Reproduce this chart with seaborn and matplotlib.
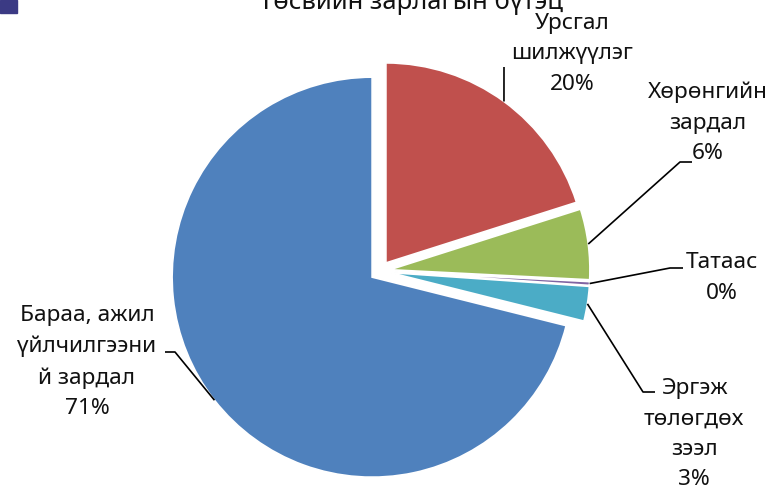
"""Pie chart of budget expenditure structure (Төсвийн зарлагын бүтэц)."""

import numpy as np
import matplotlib
matplotlib.use("Agg")
import matplotlib.pyplot as plt
import seaborn as sns
from matplotlib.patches import Rectangle

# data, in drawing order (clockwise from 12 o'clock)
categories=["Урсгал\nшилжүүлэг","Хөрөнгийн\nзардал","Татаас","Эргэж\nтөлөгдөх\nзээл","Бараа, ажил\nүйлчилгээни\nй зардал"]
shares=[20.1,5.7,0.3,2.8,71.1]
pct_labels=["20%","6%","0%","3%","71%"]
colors=["#C0504D","#9BBB59","#8064A2","#4BACC6","#4F81BD"]
title="Төсвийн зарлагын бүтэц"

# layout in pixels of the 776x492 canvas: label centre, leader elbow, leader end
label_pos=[(572,54),(708,123),(722,278),(694,434),(87,362)]
elbows=[(504,67),(680,162),(670,268),(643,392),(175,352)]
ends=[(504,67),(692,162),(683,268),(655,392),(165,352)]

W,H=776,492
CX,CY,R=380,271,200      # pie centre and radius in pixels

def px(p):                # pixel position -> data units
    return ((p[0]-CX)/R,(CY-p[1])/R)

sns.set_style("white")
plt.rcParams["font.family"]=["Noto Sans","DejaVu Sans"]

fig=plt.figure(figsize=(W/100,H/100),dpi=100)
ax=fig.add_axes([0,0,1,1])
wedges,_=ax.pie(shares,colors=sns.color_palette(colors),startangle=90,counterclock=False,
                explode=[0.05]*len(shares),radius=1,
                wedgeprops=dict(edgecolor="white",linewidth=1.2))
ax.set_xlim(-CX/R,(W-CX)/R)
ax.set_ylim((CY-H)/R,CY/R)
ax.set_aspect("equal")
ax.axis("off")

for w,cat,pct,lp,el,en in zip(wedges,categories,pct_labels,label_pos,elbows,ends):
    mid=np.deg2rad((w.theta1+w.theta2)/2)
    sx,sy=w.center[0]+w.r*np.cos(mid),w.center[1]+w.r*np.sin(mid)   # point on the wedge arc
    ex,ey=px(el)
    nx,ny=px(en)
    ax.plot([sx,ex,nx],[sy,ey,ny],color="black",lw=1.2,solid_capstyle="butt")
    tx,ty=px(lp)
    ax.text(tx,ty,cat+"\n"+pct,ha="center",va="center",fontsize=16.3,linespacing=1.6,color="#111111")

fig.text(411/W,1-9/H,title,ha="center",va="baseline",fontsize=18.5,color="#111111")
fig.patches.append(Rectangle((0,1-13/H),17/W,13/H,transform=fig.transFigure,color="#3B3A84"))

fig.savefig("out.png",dpi=100)
plt.close(fig)
